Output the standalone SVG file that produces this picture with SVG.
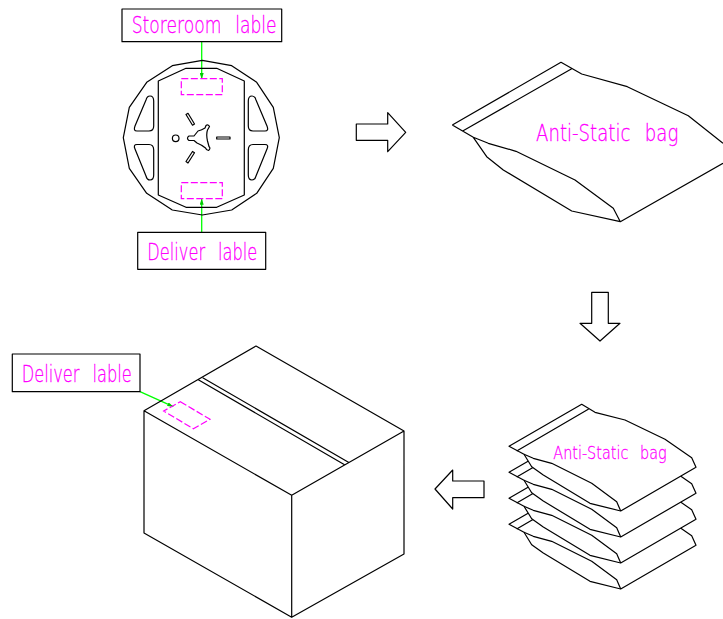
<svg xmlns="http://www.w3.org/2000/svg" xmlns:xlink="http://www.w3.org/1999/xlink" width="723" height="619" viewBox="0 0 723 619">
<style>
.k{fill:none;stroke:#000;stroke-width:1.2;stroke-linejoin:round}
.w{fill:#fff;stroke:#000;stroke-width:1.2;stroke-linejoin:round}
.d{fill:none;stroke:#f0f;stroke-width:1.2;stroke-dasharray:7 2.5}
.g{fill:none;stroke:#0f0;stroke-width:1.300;marker-end:url(#ah)}
.t{fill:#f0f;stroke:#f0f;stroke-width:.3;font-family:"DejaVu Sans",sans-serif;font-weight:200;font-size:23px;word-spacing:11px}
.s{font-size:18px;word-spacing:9px}
</style>
<defs>
<marker id="ah" viewBox="0 0 6 4" refX="6" refY="2" markerWidth="6" markerHeight="4" orient="auto" markerUnits="userSpaceOnUse"><path d="M0 0L6 2L0 4Z" fill="#0c0"/></marker>
<g id="bag">
<path class="w" d="M509 446.300L581.700 404.300L595 412.300L625 420L665 439.300L691.700 457.700L696 467.300L620.700 511L590 503.300L543.300 475L531.700 466.700L524 454.300Z"/>
<path class="k" d="M516.700 451L588.700 409M524 454.300L533.300 458.300L551.700 463.300L591.700 483.300L616.700 501.700L620.700 511"/>
</g>
</defs>
<rect width="723" height="619" fill="#fff"/>
<g id="connectors">
<path class="g" d="M201.700 41.700V79"/>
<path class="g" d="M201.700 232.300V198.700"/>
<path class="g" d="M140 391.700L173.300 406.700"/>
</g>
<g id="reel">
<path class="k" d="M202.300 60.300L231.700 65.700L256.700 82.300L273.300 107.300L279.300 137.700L273.300 168.300L256.700 193.300L231.700 210L202.300 215L172.300 210L146.700 193.300L129.300 168.300L123.300 137.700L129.300 107.300L146.700 82.300L172.300 65.700Z"/>
<path class="k" d="M158.300 81L186 68.300H216.700L244.300 81V195L216.700 207.300H186L158.300 195Z"/>
<path class="k" d="M150 96Q153.700 96 153.700 101V126Q153.700 131 149 131H137Q133 131 135 126L146 100Q147 96 150 96Z"/>
<path class="k" d="M150 180Q153.700 180 153.700 175V150Q153.700 144.500 149 144.500H137Q133 144.500 135 149L146 176Q147 180 150 180Z"/>
<path class="k" d="M252 96Q248.300 96 248.300 101V126Q248.300 131 253 131H265Q269 131 267 126L256 100Q255 96 252 96Z"/>
<path class="k" d="M252 180Q248.300 180 248.300 175V150Q248.300 144.500 253 144.500H265Q269 144.500 267 149L256 176Q255 180 252 180Z"/>
<circle class="k" cx="175.700" cy="138.300" r="3.300"/>
<path class="k" d="M189 136H194L198 131Q202 130 205 128L206 125.500Q208 124 209.500 126.500L207.500 130Q206 134 207.500 141L209 146.500Q211 148.500 208.500 150.500Q206.500 150.500 205.500 148Q201 144.500 197 143L194 140.500H189Q186 138 189 136Z"/>
<path class="k" d="M186 114.500L188 113.300L194.500 124L192.500 125.200Z"/>
<path class="k" d="M186 161.500L188 163L194.500 152.700L192.500 151.500Z"/>
<path class="k" d="M216.700 137H230V139H216.700Z"/>
<rect class="d" x="181.300" y="78.700" width="41" height="16"/>
<rect class="d" x="181.300" y="182.700" width="41" height="16"/>
</g>
<g id="storeroom-label">
<rect class="k" x="122" y="9" width="159.700" height="32.700"/>
<text class="t" x="131.700" y="33.300" textLength="145" lengthAdjust="spacingAndGlyphs">Storeroom lable</text>
</g>
<g id="deliver-label-top">
<rect class="k" x="137.700" y="232.300" width="128" height="37"/>
<text class="t" x="147.300" y="260" textLength="110" lengthAdjust="spacingAndGlyphs">Deliver lable</text>
</g>
<g id="arrow-right"><path class="k" d="M356.300 124H387.700V112.700L405.700 132.300L387.700 151.700V140.300H356.300Z"/></g>
<g id="bag-large">
<path class="k" d="M452.300 125L561 62.300L581.700 74L627.300 86.700L688.300 115.700L723 143.300M723 163.300L620.300 221.700L571.700 211L503.300 170L486.700 156.700L473.300 137.300L452.300 125M462.700 131L571.700 68.700M473.300 137.300L488.300 143.300L516 151.300L575 180L613.300 208.300L620.300 221.700"/>
<text class="t" x="536" y="140.700" textLength="142.300" lengthAdjust="spacingAndGlyphs">Anti-Static bag</text>
</g>
<g id="arrow-down"><path class="k" d="M591.700 292.300H608.300V323.300H620L600 341L580 323.300H591.700Z"/></g>
<g id="bag-stack">
<use xlink:href="#bag" y="78"/>
<use xlink:href="#bag" y="52"/>
<use xlink:href="#bag" y="26"/>
<use xlink:href="#bag"/>
<text class="t s" x="553.300" y="459" textLength="113.400" lengthAdjust="spacingAndGlyphs">Anti-Static bag</text>
</g>
<g id="arrow-left"><path class="k" d="M484 481H452.700V470L435 489L452.700 509V497.700H484Z"/></g>
<g id="box">
<path class="k" d="M256 346L404 431V554L291.700 617.300L144 533V410.700ZM144 410.700L291.700 495.300L404 431M291.700 495.300V617.300M202.700 377.700L349.300 462.700M198.300 379.700L345 465"/>
<path class="d" d="M180.300 401.700L210 419.300L193.300 428.700L163.700 411Z"/>
</g>
<g id="deliver-label-box">
<rect class="k" x="12.300" y="354" width="127.700" height="37.700"/>
<text class="t" x="21.700" y="381.700" textLength="110" lengthAdjust="spacingAndGlyphs">Deliver lable</text>
</g>
</svg>
